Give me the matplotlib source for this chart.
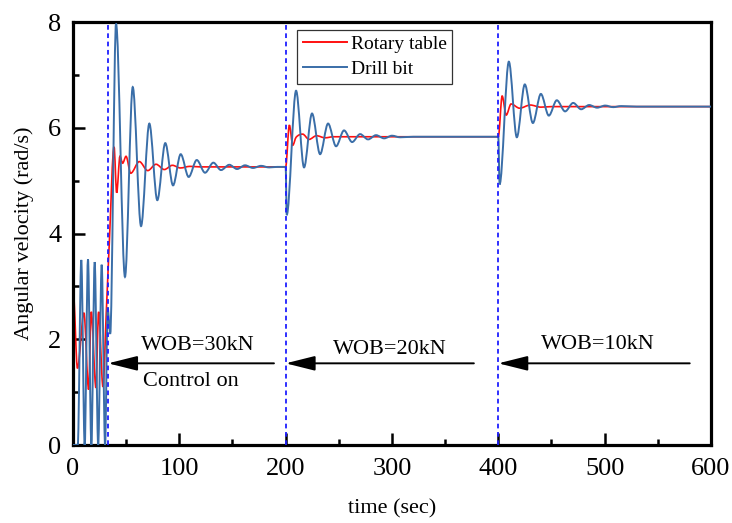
import matplotlib
matplotlib.use("Agg")
import matplotlib.pyplot as plt
from matplotlib.path import Path
from matplotlib.patches import PathPatch
from matplotlib.lines import Line2D

plt.rcParams['font.family'] = ['Liberation Serif', 'DejaVu Serif']

# Turning points (time in s, angular velocity in rad/s) of each response
drill_t = [0, 4.5, 7.8, 11.0, 14.1, 17.3, 20.4, 23.7, 27.0, 30.2, 32.6, 35.0,
           40.5, 48.9, 56.2, 64.0, 71.8, 79.3, 86.8, 94.1, 101.3, 108.8, 116.4,
           124.2, 132.0, 139.2, 147.0, 154.3, 161.8, 169.3, 176.9, 184.4, 192.0,
           200.0, 201.0, 209.8, 217.3, 224.8, 232.4, 239.9, 247.4, 254.9, 262.5,
           270.0, 277.5, 285.0, 292.6, 300.0, 307.6, 320.0,
           400.0, 401.2, 409.9, 417.4, 424.9, 432.5, 440.0, 447.5, 455.0, 462.8,
           470.4, 477.9, 485.4, 492.9, 500.5, 508.0, 515.5, 530.0, 600.0]
drill_w = [0, 0, 3.50, 0, 3.51, 0, 3.46, 0, 3.41, 0, 2.6, 2.1,
           7.97, 3.18, 6.77, 4.14, 6.08, 4.63, 5.71, 4.91, 5.50, 5.07, 5.39,
           5.15, 5.34, 5.20, 5.30, 5.22, 5.29, 5.24, 5.28, 5.25, 5.26,
           5.26, 4.35, 6.70, 5.25, 6.27, 5.50, 6.08, 5.65, 5.95, 5.73,
           5.88, 5.78, 5.86, 5.80, 5.85, 5.82, 5.83,
           5.83, 4.93, 7.25, 5.82, 6.82, 6.09, 6.64, 6.23, 6.52, 6.31,
           6.47, 6.35, 6.43, 6.38, 6.42, 6.39, 6.41, 6.40, 6.40]

table_t = [0, 0.4, 4.2, 10.3, 14.7, 17.2, 21.6, 24.1, 28.2, 31.3, 34.2,
           38.6, 41.1, 44.2, 46.7, 49.9, 54.3, 62.4, 70.3, 78.1, 85.9, 93.5,
           101.0, 110.0, 120.0,
           200.0, 203.5, 206.7, 209.8, 216.0, 222.0, 229.0, 237.0, 245.0,
           400.0, 403.6, 407.4, 412.0, 420.0, 430.0, 440.0, 450.0, 600.0]
table_w = [0, 2.84, 1.45, 2.50, 1.05, 2.52, 1.08, 2.52, 1.10, 2.50, 3.84,
           5.64, 4.77, 5.46, 5.33, 5.46, 5.14, 5.36, 5.19, 5.31, 5.21, 5.29,
           5.24, 5.27, 5.26,
           5.26, 6.05, 5.67, 5.82, 5.88, 5.78, 5.85, 5.81, 5.83,
           5.83, 6.60, 6.24, 6.45, 6.37, 6.43, 6.39, 6.40, 6.40]

# Control switching instants and load annotations
switch_t = [33, 200, 400]
arrow_tail = [189, 377, 580]
wob_labels = ['WOB=30kN', 'WOB=20kN', 'WOB=10kN']
wob_pos = [(117, 1.80), (297.7, 1.73), (493.4, 1.81)]


def smooth_path(t, w):
    """Cubic Hermite segments through the turning points, flat at extrema."""
    n = len(t)
    slopes = []
    for i in range(n):
        if i == 0 or i == n - 1:
            slopes.append(0.0)
        elif (w[i] - w[i - 1]) * (w[i + 1] - w[i]) <= 0:
            slopes.append(0.0)
        else:
            slopes.append((w[i + 1] - w[i - 1]) / (t[i + 1] - t[i - 1]))
    verts = [(t[0], w[0])]
    codes = [Path.MOVETO]
    for i in range(1, n):
        dt = t[i] - t[i - 1]
        verts += [(t[i - 1] + dt / 3, w[i - 1] + slopes[i - 1] * dt / 3),
                  (t[i] - dt / 3, w[i] - slopes[i] * dt / 3),
                  (t[i], w[i])]
        codes += [Path.CURVE4] * 3
    return Path(verts, codes)


red = '#FF1010'
blue = '#3A6EA8'

fig = plt.figure(figsize=(7.32, 5.23), dpi=100)
ax = fig.add_axes([0.0997, 0.1491, 0.8716, 0.8088])

ax.add_patch(PathPatch(smooth_path(table_t, table_w), fill=False,
                       edgecolor=red, lw=1.2, zorder=2))
ax.add_patch(PathPatch(smooth_path(drill_t, drill_w), fill=False,
                       edgecolor=blue, lw=1.4, zorder=3))

for x in switch_t:
    ax.axvline(x, color='#1F1FFF', lw=1.3, ls=(0, (2.6, 2.0)), zorder=4)

for head, tail in zip(switch_t, arrow_tail):
    ax.annotate('', xy=(head, 1.545), xytext=(tail, 1.545),
                arrowprops=dict(arrowstyle='-|>,head_length=1.8,head_width=0.45',
                                color='black', lw=1.4, shrinkA=0, shrinkB=0),
                zorder=5)

for label, (x, y) in zip(wob_labels, wob_pos):
    ax.text(x, y, label, ha='center', va='baseline', fontsize=16)
ax.text(110.5, 1.115, 'Control on', ha='center', va='baseline', fontsize=16)

ax.set_xlim(0, 600)
ax.set_ylim(0, 8)
ax.set_xticks([0, 100, 200, 300, 400, 500, 600])
ax.set_xticks([50, 150, 250, 350, 450, 550], minor=True)
ax.set_yticks([0, 2, 4, 6, 8])
ax.set_yticks([1, 3, 5, 7], minor=True)
ax.tick_params(which='both', direction='in', top=False, right=False,
               width=1.8, labelsize=19)
ax.tick_params(which='major', length=8.5)
ax.tick_params(which='minor', length=4.3)
ax.tick_params(axis='x', pad=9)
ax.tick_params(axis='y', pad=8.5)
for s in ax.spines.values():
    s.set_linewidth(2.3)

ax.set_xlabel('time (sec)', fontsize=16, labelpad=14)
ax.set_ylabel('Angular velocity (rad/s)', fontsize=16, labelpad=10)

handles = [Line2D([], [], color=red, lw=1.4), Line2D([], [], color=blue, lw=1.4)]
leg = ax.legend(handles, ['Rotary table', 'Drill bit'], loc='upper left',
                bbox_to_anchor=(0.3516, 0.981), borderaxespad=0, fontsize=14,
                frameon=True, fancybox=False, edgecolor='black',
                handlelength=2.26, handletextpad=0.2, borderpad=0.28,
                labelspacing=0.38)
leg.get_frame().set_linewidth(0.9)
leg.set_zorder(6)

fig.savefig('out.png', dpi=100)
